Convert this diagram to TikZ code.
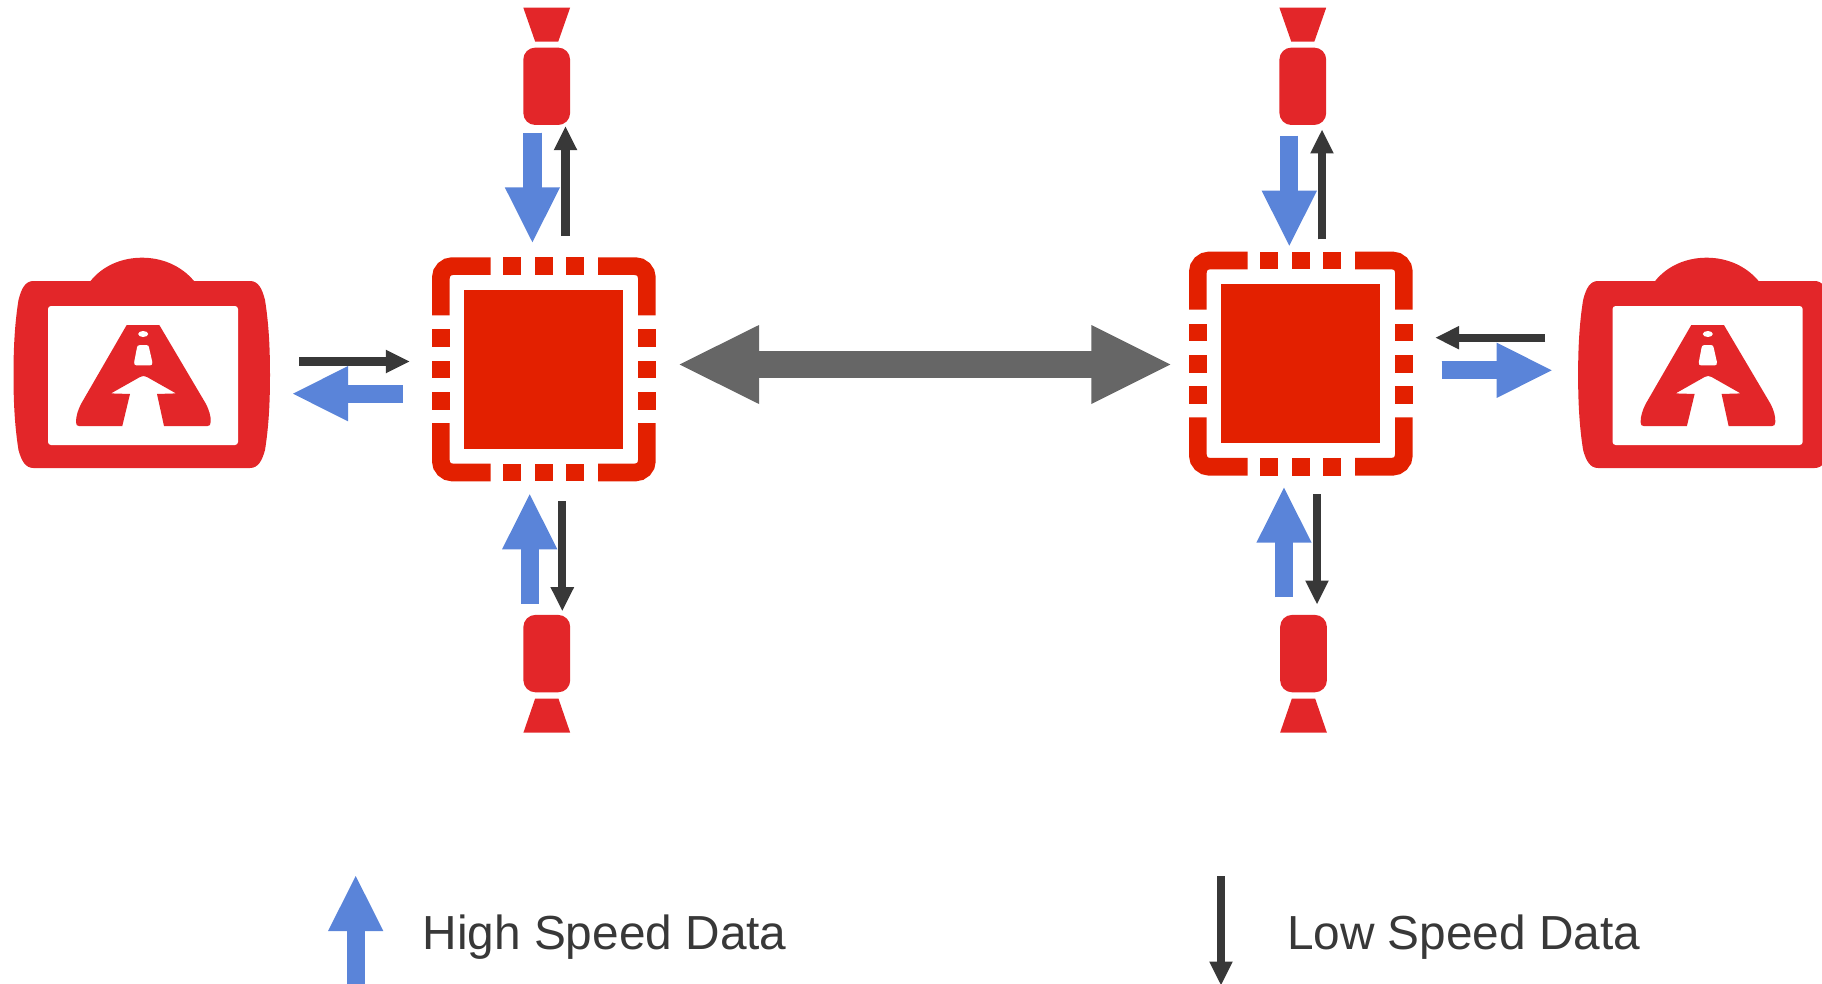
\documentclass[tikz,border=0pt]{standalone}
\usepackage{fontspec}
\setmainfont{Liberation Sans}
\usetikzlibrary{arrows.meta}
\definecolor{devred}{HTML}{E32629}
\definecolor{chipred}{HTML}{E32000}
\definecolor{highblue}{HTML}{5A84D9}
\definecolor{lowdark}{HTML}{383838}
\definecolor{linkgray}{HTML}{666666}
\tikzset{
  higharrow/.style={draw=highblue,line width=18.3pt,-{Triangle[length=55pt,width=55.3pt,line width=0pt,fill=highblue]}},
  highshaft/.style={draw=highblue,line width=18.3pt,shorten >=53pt},
  lowarrow/.style={draw=lowdark,line width=8.3pt,-{Triangle[length=23.5pt,width=23.7pt,line width=0pt,fill=lowdark]}},
  lowshaft/.style={draw=lowdark,line width=8.3pt,shorten >=22pt},
  linkarrow/.style={draw=linkgray,line width=26.7pt,{Triangle[length=79.5pt,width=79pt,line width=0pt,fill=linkgray]}-{Triangle[length=79pt,width=79pt,line width=0pt,fill=linkgray]}},
  linkshaft/.style={draw=linkgray,line width=26.7pt,shorten >=77pt,shorten <=77pt},
  chipcore/.style={fill=chipred,minimum size=159pt,inner sep=0pt,outer sep=0pt},
  chipedge/.style={draw=chipred,line width=17.7pt,rounded corners=11.5pt},
  sensorbody/.style={fill=devred,rounded corners=12pt,minimum width=46.8pt,minimum height=77.4pt,inner sep=0pt,outer sep=0pt},
  camwindow/.style={fill=white,rounded corners=3pt,minimum width=190pt,minimum height=139pt,inner sep=0pt,outer sep=0pt},
  legendtext/.style={text=lowdark,anchor=base west,inner sep=0pt,outer sep=0pt,font=\fontsize{47.8}{58}\selectfont},
}
\newcommand{\higha}[2]{\draw[highshaft] (#1) -- (#2); \draw[higharrow] (#1) -- (#2);}
\newcommand{\lowa}[2]{\draw[lowshaft] (#1) -- (#2); \draw[lowarrow] (#1) -- (#2);}
% one chip, drawn at the position of the left one
\newcommand{\chipicon}[3]{%
  \begin{scope}[xshift=#2pt,yshift=#3pt]
    \node[chipcore] (#1) at (543.8,369.5) {};
    \draw[chipedge] (440.85,315.3) |- (490.7,266.15);
    \draw[chipedge] (598,266.15) -| (646.85,315.3);
    \draw[chipedge] (440.85,423) |- (490.7,472.45);
    \draw[chipedge] (598,472.45) -| (646.85,423);
    \foreach \a in {503.3,534.8,566.2}{
      \fill[chipred] (\a,257.3) rectangle ++(17.9,17.7);
      \fill[chipred] (\a,463.6) rectangle ++(17.9,17.7);
    }
    \foreach \b in {329.3,360.5,391.8}{
      \fill[chipred] (432,\b) rectangle ++(17.7,17.8);
      \fill[chipred] (638,\b) rectangle ++(17.7,17.8);
    }
  \end{scope}}
% one camera, drawn at the position of the left one
\newcommand{\camicon}[2]{%
  \begin{scope}[xshift=#2pt]
    \fill[devred] (33.5,281) -- (90.5,281)
      .. controls (103,265.5) and (122,257.7) .. (142,257.7)
      .. controls (162,257.7) and (181,265.5) .. (194,281)
      -- (250,281)
      .. controls (258,281) and (262,288) .. (265,300)
      .. controls (269,325) and (270,350) .. (270,375)
      .. controls (270,400) and (269,425) .. (265,450)
      .. controls (262,461) and (258,468) .. (250,468)
      -- (33.5,468)
      .. controls (25.5,468) and (21.5,461) .. (18.5,450)
      .. controls (14.5,425) and (13.5,400) .. (13.5,375)
      .. controls (13.5,350) and (14.5,325) .. (18.5,300)
      .. controls (21.5,288) and (25.5,281) .. (33.5,281) -- cycle;
    \node[camwindow] (#1) at (143,375.5) {};
    \fill[devred] (126.7,325) -- (159.3,325) -- (206,404)
      .. controls (209,410) and (211,416) .. (210.7,422)
      .. controls (210.7,425) and (209.5,426) .. (207.5,426)
      -- (164,426) -- (157,394) -- (176,393.4) -- (147,377)
      .. controls (144.5,375.6) and (142.5,375.6) .. (140,377)
      -- (111,393.4) -- (130,394) -- (122.3,426) -- (79,426)
      .. controls (77,426) and (76,425) .. (76,422)
      .. controls (76,416) and (78,410) .. (81,404) -- cycle;
    \fill[white] (143.2,334) ellipse [x radius=5pt,y radius=3pt];
    \fill[white] (139.5,345.2) -- (146.8,345.2)
      .. controls (148.2,345.2) and (148.8,346) .. (149,347.5)
      -- (152.3,362) .. controls (152.8,364.5) and (151.5,365.4) .. (150,365.4)
      -- (136.5,365.4) .. controls (135,365.4) and (133.8,364.5) .. (134.2,362)
      -- (137,347.5) .. controls (137.2,346) and (138,345.2) .. (139.5,345.2) -- cycle;
  \end{scope}}
% sensor pointing up (lens on top) at horizontal centre #2
\newcommand{\sensortop}[2]{%
  \node[sensorbody] (#1) at (#2,86.3) {};
  \fill[devred] (#2-23.4,7.7) -- (#2+23.4,7.7) -- (#2+11.5,41.7) -- (#2-11.5,41.7) -- cycle;}
\newcommand{\sensorbot}[2]{%
  \node[sensorbody] (#1) at (#2,653.6) {};
  \fill[devred] (#2-23.4,732.7) -- (#2+23.4,732.7) -- (#2+11.7,698.7) -- (#2-11.7,698.7) -- cycle;}
\begin{document}
\begin{tikzpicture}[x=1pt,y=-1pt]
  \useasboundingbox (0,0) rectangle (1822,984);
  \clip (0,0) rectangle (1822,984);
  \camicon{camL}{0}
  \camicon{camR}{1564.6}
  \chipicon{chipL}{0}{0}
  \chipicon{chipR}{757}{5.7}
  \sensortop{senTL}{546.7}
  \sensortop{senTR}{1302.8}
  \sensorbot{senBL}{546.8}
  \sensorbot{senBR}{1303.5}
  % coordinates of arrow ends
  \coordinate (a1s) at (299.3,361.5); \coordinate (a1e) at (409.3,361.5);
  \coordinate (a2s) at (402.7,393.7); \coordinate (a2e) at (293,393.7);
  \coordinate (a3s) at (1545,337.7);  \coordinate (a3e) at (1435.7,337.7);
  \coordinate (a4s) at (1441.7,370.3);\coordinate (a4e) at (1551.7,370.3);
  \coordinate (b1s) at (532.4,132.7); \coordinate (b1e) at (532.4,242.3);
  \coordinate (b2s) at (565.5,235.7); \coordinate (b2e) at (565.5,126.7);
  \coordinate (b3s) at (1289.3,136);  \coordinate (b3e) at (1289.3,245.7);
  \coordinate (b4s) at (1322,239.3);  \coordinate (b4e) at (1322,130);
  \coordinate (c1s) at (529.7,603.7); \coordinate (c1e) at (529.7,494.3);
  \coordinate (c2s) at (562.3,501);   \coordinate (c2e) at (562.3,610.7);
  \coordinate (c3s) at (1284,597);    \coordinate (c3e) at (1284,487.7);
  \coordinate (c4s) at (1317,494);    \coordinate (c4e) at (1317,604);
  \coordinate (d1) at (679.5,364.5);  \coordinate (d2) at (1170.3,364.5);
  \coordinate (e1s) at (355.7,986);   \coordinate (e1e) at (355.7,876);
  \coordinate (e2s) at (1221,876);    \coordinate (e2e) at (1221,985);
  % data arrows
  \lowa{a1s}{a1e}
  \higha{a2s}{a2e}
  \lowa{a3s}{a3e}
  \higha{a4s}{a4e}
  \higha{b1s}{b1e}
  \lowa{b2s}{b2e}
  \higha{b3s}{b3e}
  \lowa{b4s}{b4e}
  \higha{c1s}{c1e}
  \lowa{c2s}{c2e}
  \higha{c3s}{c3e}
  \lowa{c4s}{c4e}
  \draw[linkshaft] (d1) -- (d2);
  \draw[linkarrow] (d1) -- (d2);
  % legend
  \higha{e1s}{e1e}
  \lowa{e2s}{e2e}
  \node[legendtext] (lgHigh) at (422.5,949) {High Speed Data};
  \node[legendtext] (lgLow) at (1287,949) {Low Speed Data};
\end{tikzpicture}
\end{document}
